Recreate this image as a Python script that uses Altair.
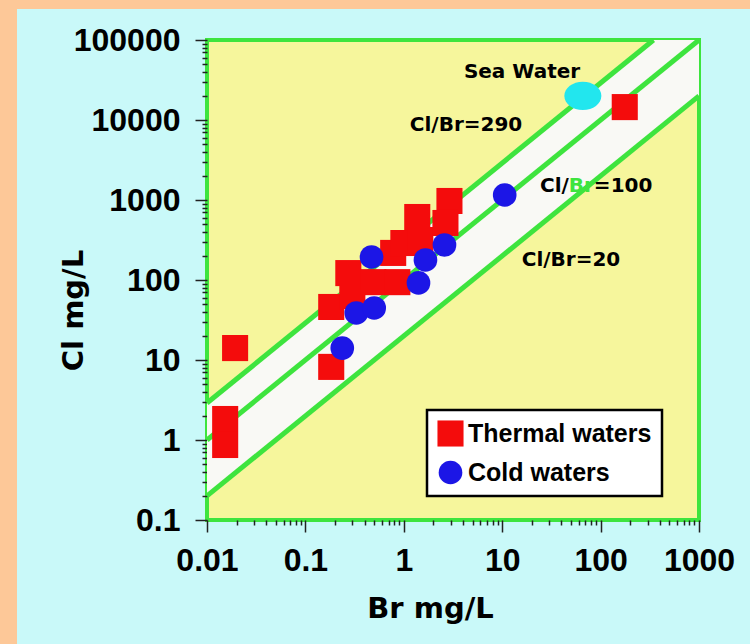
import altair as alt
import pandas as pd

# Thermal waters (red squares): Br and Cl in mg/L
thermal_br = [0.0153, 0.0153, 0.0193, 0.183, 0.183, 0.273, 0.30, 0.49, 0.86,
              0.78, 0.99, 1.37, 1.47, 2.91, 2.65, 176]
thermal_cl = [1.83, 0.866, 14.1, 8.2, 46, 122, 63, 94, 94,
              218, 290, 613, 316, 972, 516, 14500]

# Cold waters (blue circles)
cold_br = [0.237, 0.329, 0.50, 0.47, 1.41, 1.66, 2.59, 10.6]
cold_cl = [14.1, 38.7, 44.7, 194, 92, 178, 274, 1155]

# Sea water reference point
sea_br = [66]
sea_cl = [20000]

# Cl/Br reference ratios and the plotted ranges
ratios = [290, 100, 20]
br_range = [0.01, 1000]
cl_range = [0.1, 100000]

# Annotation labels
note_text = ["Sea Water", "Cl/Br=290", "Cl/Br=20"]
note_br = [15.9, 4.29, 50]
note_cl = [39800, 8660, 178]
mid_parts = ["Cl/", "Br", "=100"]
mid_br = 24.2
mid_cl = 1500

PEACH = "#fdc898"
CYAN = "#c9f9f9"
YELLOW = "#f6f69c"
GREEN = "#3ee43e"
BAND = "#f9f9f5"
RED = "#f40c0c"
BLUE = "#1c16e6"
SEA = "#22e6ee"

# --- tables ---------------------------------------------------------------
points = pd.DataFrame({
    "Br": thermal_br + cold_br,
    "Cl": thermal_cl + cold_cl,
    "type": ["Thermal waters"] * len(thermal_br) + ["Cold waters"] * len(cold_br),
})

line_rows = []
for r in ratios:
    end = min(br_range[1], cl_range[1] / r)
    for b in (br_range[0], end):
        line_rows.append({"ratio": f"Cl/Br={r}", "Br": b, "Cl": r * b})
lines = pd.DataFrame(line_rows)

hi, lo = max(ratios), min(ratios)
band_br = [br_range[0], cl_range[1] / hi, br_range[1]]
band = pd.DataFrame({
    "Br": band_br,
    "Cl": [min(hi * b, cl_range[1]) for b in band_br],
    "Cl2": [lo * b for b in band_br],
})

sea = pd.DataFrame({"Br": sea_br, "Cl": sea_cl})
notes = pd.DataFrame({"Br": note_br, "Cl": note_cl, "label": note_text})
mid = pd.DataFrame({"Br": [mid_br], "Cl": [mid_cl]})

# --- axes & scales ----------------------------------------------------------
decade = "abs(log(datum.value) / LN10 - round(log(datum.value) / LN10)) < 0.001"
x_ticks = [m * 10.0 ** e for e in range(-2, 3) for m in range(1, 10)] + [1000.0]
y_ticks = [m * 10.0 ** e for e in range(-1, 5) for m in range(1, 10)] + [100000.0]

tick_font = dict(labelFont="Liberation Sans", labelFontSize=32, labelFontWeight="bold",
                 labelColor="black", labelOverlap=False, labelFlush=False,
                 labelExpr=f"{decade} ? format(datum.value, '~g') : ''",
                 tickSize={"condition": {"test": decade, "value": 12}, "value": 5},
                 tickColor="#222222", tickWidth=1.5, domain=False, grid=False,
                 titleFont="DejaVu Sans", titleFontSize=29, titleFontWeight="bold",
                 titleColor="black", titleAlign="center", titleBaseline="middle")

axis_x = alt.Axis(values=x_ticks, title="Br mg/L", labelPadding=13,
                  titleX=223, titleY=88, **tick_font)
axis_y = alt.Axis(values=y_ticks, title="Cl mg/L", labelPadding=15,
                  titleX=-134, titleY=270, titleAngle=270, **tick_font)

xscale = alt.Scale(type="log", domain=br_range, nice=False)
yscale = alt.Scale(type="log", domain=cl_range, nice=False)


def X(field="Br"):
    return alt.X(f"{field}:Q", scale=xscale, axis=axis_x, title="Br mg/L")


def Y(field="Cl"):
    return alt.Y(f"{field}:Q", scale=yscale, axis=axis_y, title="Cl mg/L")


# --- layers -----------------------------------------------------------------
one = alt.Data(values=[{}])
frame_left = alt.Chart(one).mark_rect(color=PEACH).encode(
    x=alt.value(-207), x2=alt.value(-190), y=alt.value(-40), y2=alt.value(604))
frame_top = alt.Chart(one).mark_rect(color=PEACH).encode(
    x=alt.value(-207), x2=alt.value(543), y=alt.value(-40), y2=alt.value(-31))

band_layer = alt.Chart(band).mark_area(color=BAND, opacity=1).encode(
    x=X(), y=Y(), y2="Cl2:Q")

line_layer = alt.Chart(lines).mark_line(color=GREEN, strokeWidth=5).encode(
    x=X(), y=Y(), detail="ratio:N")

legend = alt.Legend(orient="none", legendX=220, legendY=370, title=None,
                    fillColor="white", strokeColor="black", padding=10,
                    labelFont="Liberation Sans", labelFontSize=25,
                    labelFontWeight="bold", labelColor="black", labelLimit=400,
                    rowPadding=13, labelOffset=4, symbolStrokeWidth=0,
                    labelExpr="datum.value == 'Cold waters' ? '\u2002' + datum.value : datum.value")
kinds = ["Thermal waters", "Cold waters"]

point_layer = alt.Chart(points).mark_point(filled=True, opacity=1, strokeWidth=0).encode(
    x=X(), y=Y(),
    color=alt.Color("type:N", scale=alt.Scale(domain=kinds, range=[RED, BLUE]), legend=legend),
    shape=alt.Shape("type:N", scale=alt.Scale(domain=kinds, range=["square", "circle"]), legend=legend),
    size=alt.Size("type:N", scale=alt.Scale(domain=kinds, range=[680, 560]), legend=legend),
)

ellipse = "M -1 0 A 1 0.76 0 1 0 1 0 A 1 0.76 0 1 0 -1 0 Z"
sea_layer = alt.Chart(sea).mark_point(shape=ellipse, filled=True, opacity=1,
                                      size=1370, color=SEA, strokeWidth=0).encode(
    x=X(), y=Y())

note_style = dict(font="DejaVu Sans", fontWeight="bold", baseline="middle")
note_layer = alt.Chart(notes).mark_text(fontSize=20, color="black", align="center",
                                        **note_style).encode(
    x=X(), y=Y(), text="label:N")

part_dx = [0, 28.8, 53.9]
part_color = ["black", GREEN, "black"]
mid_layers = [
    alt.Chart(mid).mark_text(text=t, dx=d, color=c, fontSize=20, align="left",
                             **note_style).encode(x=X(), y=Y())
    for t, d, c in zip(mid_parts, part_dx, part_color)
]

chart = alt.layer(
    frame_left, frame_top, band_layer, line_layer, point_layer, sea_layer,
    note_layer, *mid_layers
).properties(
    width=492, height=480,
    autosize=alt.AutoSizeParams(type="none"),
    padding={"left": 207, "top": 40, "right": 51, "bottom": 124},
    background=CYAN,
).configure_view(
    fill=YELLOW, stroke=GREEN, strokeWidth=4
).configure_legend(
    strokeWidth=2.5
)

chart.save("out.html", embed_options={"renderer": "svg", "actions": False})
